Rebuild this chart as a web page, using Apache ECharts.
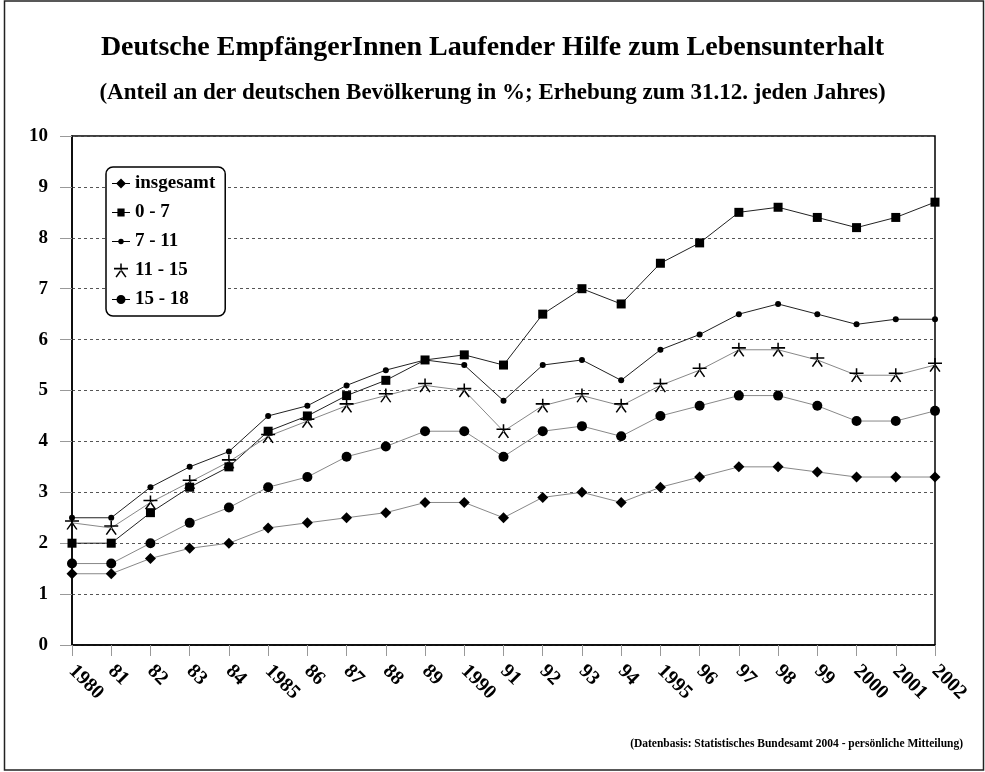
<!DOCTYPE html>
<html>
<head>
<meta charset="utf-8">
<script src="https://cdn.jsdelivr.net/npm/echarts@6/dist/echarts.min.js"></script>
<style>html,body{margin:0;padding:0;background:#fff}#c{width:985px;height:772px}</style>
</head>
<body>
<div id="c"></div>
<script>
const years = ['1980','81','82','83','84','1985','86','87','88','89','1990','91','92','93','94','1995','96','97','98','99','2000','2001','2002'];
const insgesamt = [1.4,1.4,1.7,1.9,2.0,2.3,2.4,2.5,2.6,2.8,2.8,2.5,2.9,3.0,2.8,3.1,3.3,3.5,3.5,3.4,3.3,3.3,3.3];
const age0_7   = [2.0,2.0,2.6,3.1,3.5,4.2,4.5,4.9,5.2,5.6,5.7,5.5,6.5,7.0,6.7,7.5,7.9,8.5,8.6,8.4,8.2,8.4,8.7];
const age7_11  = [2.5,2.5,3.1,3.5,3.8,4.5,4.7,5.1,5.4,5.6,5.5,4.8,5.5,5.6,5.2,5.8,6.1,6.5,6.7,6.5,6.3,6.4,6.4];
const age11_15 = [2.4,2.3,2.8,3.2,3.6,4.1,4.4,4.7,4.9,5.1,5.0,4.2,4.7,4.9,4.7,5.1,5.4,5.8,5.8,5.6,5.3,5.3,5.5];
const age15_18 = [1.6,1.6,2.0,2.4,2.7,3.1,3.3,3.7,3.9,4.2,4.2,3.7,4.2,4.3,4.1,4.5,4.7,4.9,4.9,4.7,4.4,4.4,4.6];
const seriesNames = ['insgesamt','0 - 7','7 - 11','11 - 15','15 - 18'];
const yTicks = [0,1,2,3,4,5,6,7,8,9,10];

const FONT = "'Liberation Serif','Times New Roman',serif";
const asterisk = 'path://M44.5,0 L55.5,0 L55.5,50 L44.5,50 Z M0,31 L100,31 L100,42 L0,42 Z M54.5,51.5 L45.5,45 L10.5,95 L19.5,100 Z M45.5,51.5 L54.5,45 L89.5,95 L80.5,100 Z';

// legend icons: line (thin rect spanning full width) + symbol, drawn with uniform scale
const legendIcons = [
  'path://M0,5 L20,5 L20,6 L0,6 Z M10,0 L15.5,5.5 L10,11 L4.5,5.5 Z',
  'path://M0,4 L20,4 L20,5 L0,5 Z M6,0 L14,0 L14,9 L6,9 Z',
  'path://M0,2.5 L20,2.5 L20,3.5 L0,3.5 Z M13,3 A3,3 0 1,1 7,3 A3,3 0 1,1 13,3 Z',
  asterisk,
  'path://M0,4.5 L20,4.5 L20,5.5 L0,5.5 Z M15,5 A5,5 0 1,1 5,5 A5,5 0 1,1 15,5 Z'
];

function mk(name, data, symbol, size, lineColor) {
  return {
    name, type: 'line', data, symbol, symbolSize: size,
    lineStyle: { color: lineColor, width: 1 },
    itemStyle: { color: '#000' },
    emphasis: { disabled: true },
    animation: false
  };
}

const chart = echarts.init(document.getElementById('c'), null, { renderer: 'canvas' });
chart.setOption({
  backgroundColor: '#fff',
  animation: false,
  title: [
    { text: 'Deutsche EmpfängerInnen Laufender Hilfe zum Lebensunterhalt', left: 'center', top: 29,
      textStyle: { fontFamily: FONT, fontSize: 28, fontWeight: 'bold', color: '#000' } },
    { text: '(Anteil an der deutschen Bevölkerung in %; Erhebung zum 31.12. jeden Jahres)', left: 'center', top: 77,
      textStyle: { fontFamily: FONT, fontSize: 23, fontWeight: 'bold', color: '#000' } }
  ],
  legend: {
    data: seriesNames.map((n, i) => ({ name: n, icon: legendIcons[i] })),
    orient: 'vertical',
    left: 106, top: 167,
    padding: [7, 10, 7, 6],
    itemGap: 10,
    itemWidth: 18, itemHeight: 14,
    backgroundColor: '#fff',
    borderColor: '#000', borderWidth: 1.5, borderRadius: 7,
    textStyle: { fontFamily: FONT, fontSize: 19, fontWeight: 'bold', color: '#000' }
  },
  grid: { left: 72, right: 50, top: 136, bottom: 127, show: true, borderColor: '#000', borderWidth: 1.5, backgroundColor: 'transparent' },
  xAxis: {
    type: 'category', data: years, boundaryGap: false,
    axisLine: { lineStyle: { color: '#000', width: 1.5 } },
    axisTick: { show: true, length: 11, alignWithLabel: true, lineStyle: { color: '#999' } },
    axisLabel: { rotate: -45, margin: 23, interval: 0, fontFamily: FONT, fontSize: 20, fontWeight: 'bold', color: '#000' }
  },
  yAxis: {
    type: 'value', min: 0, max: 10, interval: 1,
    axisLine: { show: true, lineStyle: { color: '#000', width: 1.5 } },
    axisTick: { show: true, length: 12, lineStyle: { color: '#999' } },
    axisLabel: { margin: 24, fontFamily: FONT, fontSize: 19, fontWeight: 'bold', color: '#000',
      formatter: v => yTicks.includes(v) ? String(v) : '' },
    splitLine: { show: true, lineStyle: { color: '#555', type: [3, 3], width: 1 } }
  },
  series: [
    mk(seriesNames[0], insgesamt, 'diamond', 11, '#888'),
    mk(seriesNames[1], age0_7, 'rect', 9, '#222'),
    mk(seriesNames[2], age7_11, 'circle', 6, '#222'),
    mk(seriesNames[3], age11_15, asterisk, 14, '#888'),
    mk(seriesNames[4], age15_18, 'circle', 10, '#888')
  ],
  graphic: [
    { type: 'rect', silent: true, shape: { x: 4.5, y: 1, width: 979, height: 769 },
      style: { fill: 'none', stroke: '#222', lineWidth: 1.5 } },
    { type: 'text', right: 22, top: 738,
      style: { text: '(Datenbasis: Statistisches Bundesamt 2004 - persönliche Mitteilung)',
        font: 'bold 11.5px ' + FONT, fill: '#000' } }
  ]
});
</script>
</body>
</html>
